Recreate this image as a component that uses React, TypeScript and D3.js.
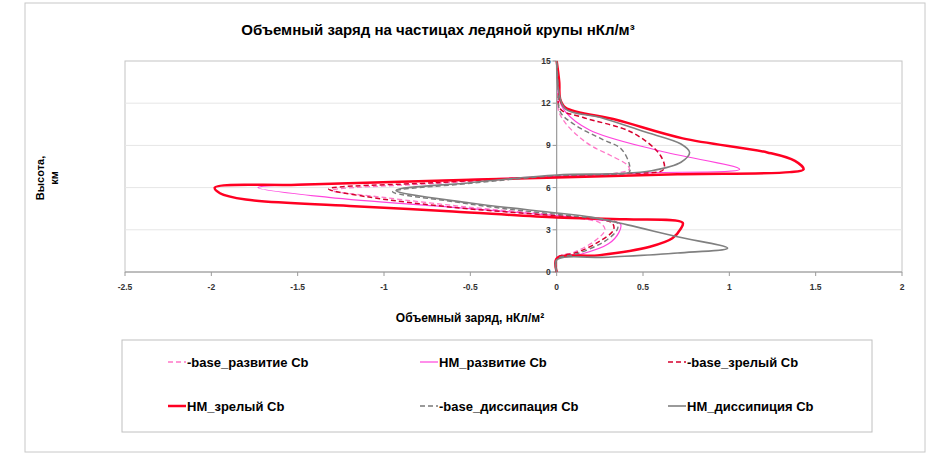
import React from "react";
import * as d3 from "d3";

const W = 935;
const H = 455;

const xTicks = [-2.5, -2, -1.5, -1, -0.5, 0, 0.5, 1, 1.5, 2];
const yTicks = [0, 3, 6, 9, 12, 15];

const seriesNames = [
  "-base_развитие Cb",
  "HM_развитие Cb",
  "-base_зрелый Cb",
  "HM_зрелый Cb",
  "-base_диссипация Cb",
  "HM_диссипиция Cb",
];

// [charge nC/m^3, height km]
const baseRazvitie: [number, number][] = [
  [0, 0], [0, 1.0], [0.1, 1.4], [0.22, 2.2], [0.28, 3.0], [0.25, 3.5], [0.1, 3.85], [0, 4.05],
  [-0.5, 4.6], [-1.0, 5.3], [-1.3, 5.8], [-0.7, 6.3], [0, 6.8], [0.3, 6.95], [0.42, 7.3],
  [0.41, 7.6], [0.31, 8.3], [0.21, 8.9], [0.13, 9.6], [0.05, 10.6], [0.01, 11.5], [0.01, 13], [0, 15],
];
const hmRazvitie: [number, number][] = [
  [0, 0], [0, 1.0], [0.15, 1.3], [0.3, 2.0], [0.36, 2.8], [0.37, 3.4], [0.2, 3.75], [0, 4.0],
  [-0.6, 4.6], [-1.32, 5.3], [-1.73, 6.0], [-0.9, 6.4], [0, 6.8], [0.5, 7.05], [1.06, 7.3],
  [0.6, 8.6], [0.19, 10.1], [0.05, 11.4], [0.01, 12.5], [0.01, 13.5], [0, 15],
];
const baseZrely: [number, number][] = [
  [0, 0], [0, 1.0], [0.12, 1.4], [0.25, 2.2], [0.33, 3.0], [0.32, 3.5], [0.15, 3.85], [0, 4.0],
  [-0.6, 4.6], [-1.1, 5.35], [-1.32, 5.9], [-0.7, 6.35], [0, 6.8], [0.4, 7.0], [0.62, 7.3],
  [0.6, 8.3], [0.44, 9.9], [0.15, 11.0], [0.02, 11.6], [0.01, 13], [0, 15],
];
const hmZrely: [number, number][] = [
  [0, 0], [0, 0.95], [0.25, 1.2], [0.54, 1.8], [0.67, 2.4], [0.72, 3.1], [0.73, 3.5], [0.4, 3.75],
  [0, 3.88], [-0.6, 4.3], [-1.2, 4.7], [-1.8, 5.15], [-1.95, 5.6], [-1.98, 6.0], [-1.5, 6.2],
  [-0.8, 6.45], [0, 6.72], [0.7, 6.95], [1.35, 7.1], [1.43, 7.3], [1.38, 7.9], [1.22, 8.5],
  [0.73, 9.5], [0.35, 10.8], [0.05, 11.7], [0.02, 12.3], [0.015, 13.5], [0, 15],
];
const baseDissip: [number, number][] = [
  [0, 0], [0, 0.9], [0.12, 1.3], [0.28, 2.2], [0.35, 3.0], [0.35, 3.5], [0.15, 3.9], [0, 4.1],
  [-0.3, 4.5], [-0.6, 5.0], [-0.95, 5.7], [-0.5, 6.3], [0, 6.85], [0.3, 6.95], [0.42, 7.1],
  [0.42, 7.7], [0.37, 8.8], [0.27, 9.4], [0.1, 10.5], [0.02, 11.4], [0.01, 13], [0, 15],
];
const hmDissip: [number, number][] = [
  [0, 0], [0, 0.85], [0.3, 1.05], [0.7, 1.35], [0.99, 1.7], [0.7, 2.5], [0.41, 3.35], [0.2, 3.9],
  [0, 4.2], [-0.5, 4.9], [-0.93, 5.8], [-0.5, 6.35], [0, 6.9], [0.35, 7.0], [0.55, 7.2],
  [0.72, 7.8], [0.77, 8.5], [0.72, 9.1], [0.5, 10.0], [0.25, 11.0], [0.05, 11.6], [0.01, 13], [0, 15],
];

const seriesData = [baseRazvitie, hmRazvitie, baseZrely, hmZrely, baseDissip, hmDissip];

const styles = [
  { color: "#FF77C8", width: 1.3, dash: "5,3" },
  { color: "#FF44DD", width: 1.2, dash: "" },
  { color: "#D6002E", width: 1.5, dash: "5,3" },
  { color: "#FF0022", width: 2.5, dash: "" },
  { color: "#7A7A7A", width: 1.4, dash: "5,3" },
  { color: "#808080", width: 1.6, dash: "" },
];

export default function App() {
  const x = d3.scaleLinear().domain([-2.5, 2]).range([125, 902]);
  const y = d3.scaleLinear().domain([0, 15]).range([272, 61]);
  const line = d3
    .line<[number, number]>()
    .x((d) => x(d[0]))
    .y((d) => y(d[1]))
    .curve(d3.curveCatmullRom.alpha(0.5));

  const font = "Arial, 'Liberation Sans', sans-serif";
  const legendCols = [168, 420, 668];
  const legendRows = [362, 406];

  return (
    <svg
      width={W}
      height={H}
      style={{ position: "absolute", left: 0, top: 0, background: "#fff" }}
      fontFamily={font}
    >
      <rect x={25} y={3} width={900} height={449} fill="#fff" stroke="#c8c8c8" strokeWidth={1} />
      <text x={438} y={35} textAnchor="middle" fontSize={15} fontWeight="bold" fill="#000">
        Объемный заряд на частицах ледяной крупы нКл/м³
      </text>

      {/* plot area */}
      <rect x={125} y={61} width={777} height={211} fill="#fff" stroke="#c4c4c4" strokeWidth={1} />
      {yTicks.filter((t) => t > 0 && t < 15).map((t) => (
        <line key={"g" + t} x1={125} x2={902} y1={y(t)} y2={y(t)} stroke="#e6e6e6" strokeWidth={1} />
      ))}

      {/* x axis */}
      <line x1={125} x2={902} y1={y(0)} y2={y(0)} stroke="#9a9a9a" strokeWidth={1.2} />
      {xTicks.map((t) => (
        <g key={"x" + t}>
          <line x1={x(t)} x2={x(t)} y1={y(0)} y2={y(0) + 4} stroke="#9a9a9a" />
          <text x={x(t)} y={y(0) + 18} textAnchor="middle" fontSize={8.5} fontWeight="bold" fill="#333">
            {String(t)}
          </text>
        </g>
      ))}
      {/* y axis */}
      <line x1={x(0)} x2={x(0)} y1={y(0)} y2={y(15)} stroke="#9a9a9a" strokeWidth={1.2} />
      {yTicks.map((t) => (
        <g key={"y" + t}>
          <line x1={x(0) - 4} x2={x(0)} y1={y(t)} y2={y(t)} stroke="#9a9a9a" />
          <text x={x(0) - 6} y={y(t) + 3} textAnchor="end" fontSize={8.5} fontWeight="bold" fill="#333">
            {t}
          </text>
        </g>
      ))}

      {/* series */}
      {seriesData.map((d, i) => (
        <path
          key={"s" + i}
          d={line(d) || ""}
          fill="none"
          stroke={styles[i].color}
          strokeWidth={styles[i].width}
          strokeDasharray={styles[i].dash || undefined}
          strokeLinejoin="round"
        />
      ))}

      {/* axis titles */}
      <text x={470} y={322} textAnchor="middle" fontSize={12} fontWeight="bold" fill="#000">
        Объемный заряд, нКл/м²
      </text>
      <text transform="translate(44,178) rotate(-90)" textAnchor="middle" fontSize={11} fontWeight="bold" fill="#000">
        Высота,
      </text>
      <text transform="translate(58,178) rotate(-90)" textAnchor="middle" fontSize={11} fontWeight="bold" fill="#000">
        км
      </text>

      {/* legend */}
      <rect x={122} y={340} width={750} height={92} fill="#fff" stroke="#c0c0c0" strokeWidth={1} />
      {seriesNames.map((name, i) => {
        const cx = legendCols[i % 3];
        const cy = legendRows[Math.floor(i / 3)];
        const s = styles[i];
        return (
          <g key={"l" + i}>
            <line
              x1={cx}
              x2={cx + 18}
              y1={cy}
              y2={cy}
              stroke={s.color}
              strokeWidth={s.width}
              strokeDasharray={s.dash || undefined}
            />
            <text x={cx + 19} y={cy + 4.5} fontSize={13} fontWeight="bold" fill="#000">
              {name}
            </text>
          </g>
        );
      })}
    </svg>
  );
}
